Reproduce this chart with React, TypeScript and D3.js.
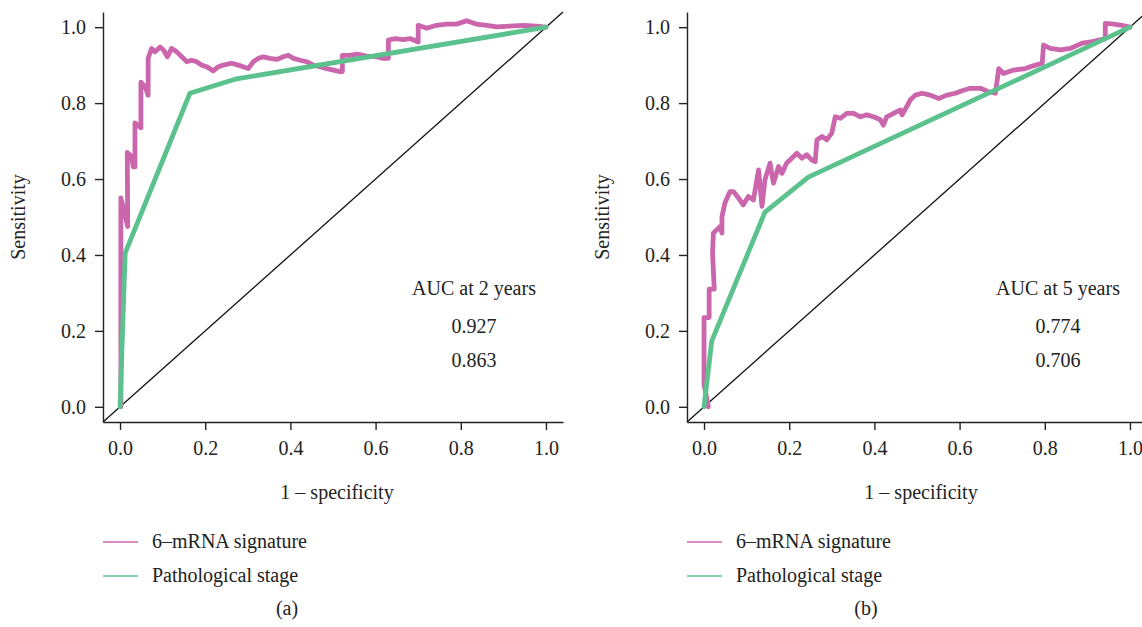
import React, { useEffect, useRef } from "react";
import * as d3 from "d3";

// ROC points, [1 - specificity, sensitivity]
const signature2yr: [number, number][] = [
  [0.002, 0], [0.002, 0.55], [0.018, 0.475], [0.017, 0.67], [0.027, 0.66], [0.031, 0.632],
  [0.035, 0.632], [0.035, 0.748], [0.049, 0.735], [0.049, 0.855], [0.059, 0.843], [0.066, 0.821],
  [0.066, 0.918], [0.074, 0.944], [0.082, 0.935], [0.094, 0.948], [0.102, 0.94], [0.111, 0.922],
  [0.121, 0.944], [0.133, 0.935], [0.145, 0.922], [0.157, 0.909], [0.168, 0.913], [0.18, 0.909],
  [0.192, 0.9], [0.203, 0.896], [0.219, 0.885], [0.231, 0.896], [0.242, 0.9], [0.262, 0.905],
  [0.278, 0.9], [0.289, 0.896], [0.301, 0.891], [0.313, 0.909], [0.325, 0.918], [0.336, 0.922],
  [0.352, 0.918], [0.368, 0.915], [0.383, 0.922], [0.395, 0.926], [0.407, 0.918], [0.423, 0.913],
  [0.438, 0.909], [0.454, 0.9], [0.469, 0.896], [0.485, 0.891], [0.501, 0.887], [0.516, 0.883],
  [0.522, 0.883], [0.522, 0.926], [0.54, 0.926], [0.556, 0.929], [0.579, 0.924], [0.603, 0.922],
  [0.618, 0.918], [0.63, 0.918], [0.63, 0.966], [0.646, 0.97], [0.665, 0.967], [0.681, 0.97],
  [0.7, 0.961], [0.7, 1.005], [0.72, 0.997], [0.743, 1.005], [0.767, 1.008], [0.79, 1.008],
  [0.814, 1.017], [0.837, 1.008], [0.861, 1.005], [0.884, 1.001], [0.915, 1.003], [0.947, 1.005],
  [0.978, 1.003], [1, 1],
];
const stage2yr: [number, number][] = [[0, 0], [0.012, 0.405], [0.164, 0.826], [0.27, 0.863], [1, 1]];

const signature5yr: [number, number][] = [
  [0.01, 0], [0, 0.06], [0, 0.235], [0.012, 0.235], [0.012, 0.31], [0.024, 0.31], [0.02, 0.405],
  [0.022, 0.458], [0.038, 0.475], [0.042, 0.458], [0.042, 0.5], [0.049, 0.537], [0.061, 0.567],
  [0.069, 0.567], [0.081, 0.55], [0.092, 0.532], [0.104, 0.554], [0.116, 0.545], [0.128, 0.624],
  [0.136, 0.528], [0.143, 0.598], [0.155, 0.642], [0.163, 0.589], [0.175, 0.633], [0.183, 0.615],
  [0.194, 0.642], [0.206, 0.655], [0.218, 0.668], [0.23, 0.655], [0.241, 0.664], [0.253, 0.65],
  [0.261, 0.646], [0.265, 0.703], [0.277, 0.712], [0.288, 0.703], [0.3, 0.721], [0.308, 0.764],
  [0.32, 0.76], [0.335, 0.773], [0.351, 0.773], [0.367, 0.764], [0.382, 0.769], [0.398, 0.764],
  [0.414, 0.756], [0.421, 0.742], [0.429, 0.764], [0.445, 0.773], [0.461, 0.782], [0.465, 0.769],
  [0.476, 0.791], [0.484, 0.808], [0.496, 0.821], [0.512, 0.826], [0.531, 0.821], [0.551, 0.812],
  [0.57, 0.821], [0.59, 0.826], [0.609, 0.834], [0.625, 0.839], [0.649, 0.839], [0.668, 0.83],
  [0.684, 0.826], [0.692, 0.891], [0.703, 0.878], [0.727, 0.887], [0.754, 0.891], [0.778, 0.9],
  [0.794, 0.905], [0.797, 0.953], [0.813, 0.944], [0.837, 0.94], [0.86, 0.944], [0.888, 0.958],
  [0.907, 0.961], [0.927, 0.966], [0.942, 0.97], [0.942, 1.01], [0.962, 1.008], [0.981, 1.005],
  [1, 1],
];
const stage5yr: [number, number][] = [[0, 0], [0.018, 0.173], [0.143, 0.513], [0.245, 0.605], [1, 1]];

const tickValues = [0, 0.2, 0.4, 0.6, 0.8, 1.0];
const seriesNames = ["6–mRNA signature", "Pathological stage"];
const seriesColors = ["#cb66ad", "#5bc28e"];
const aucText2yr = ["AUC at 2 years", "0.927", "0.863"];
const aucText5yr = ["AUC at 5 years", "0.774", "0.706"];
const panelTags = ["(a)", "(b)"];

const W = 1142;
const H = 627;
const FONT = "Liberation Serif, Times New Roman, serif";

export default function App() {
  const svgRef = useRef<SVGSVGElement>(null);

  useEffect(() => {
    const svg = d3.select(svgRef.current);
    svg.selectAll("*").remove();

    const panels = [
      { sig: signature2yr, stage: stage2yr, auc: aucText2yr, tag: panelTags[0], dx: 0, tagX: 287 },
      { sig: signature5yr, stage: stage5yr, auc: aucText5yr, tag: panelTags[1], dx: 584, tagX: 282 },
    ];

    panels.forEach((p) => {
      const g = svg.append("g").attr("transform", `translate(${p.dx},0)`);

      // R style plot region: data range padded by 4%
      const x = d3.scaleLinear().domain([-0.04, 1.04]).range([103, 563]);
      const y = d3.scaleLinear().domain([-0.04, 1.04]).range([422, 12]);

      // reference diagonal
      g.append("line")
        .attr("x1", x(-0.04))
        .attr("y1", y(-0.04))
        .attr("x2", x(1.04))
        .attr("y2", y(1.04))
        .attr("stroke", "#111")
        .attr("stroke-width", 1.3);

      const line = d3
        .line<[number, number]>()
        .x((d) => x(d[0]))
        .y((d) => y(d[1]));

      [p.sig, p.stage].forEach((pts, i) => {
        g.append("path")
          .datum(pts)
          .attr("d", line)
          .attr("fill", "none")
          .attr("stroke", seriesColors[i])
          .attr("stroke-width", 4.8)
          .attr("stroke-linejoin", "round")
          .attr("stroke-linecap", "round");
      });

      // axes
      const fmt = d3.format(".1f");
      const xAxis = g
        .append("g")
        .attr("transform", `translate(0,422)`)
        .call(
          d3.axisBottom(x).tickValues(tickValues).tickFormat(fmt as any).tickSize(8).tickSizeOuter(0).tickPadding(11)
        );
      const yAxis = g
        .append("g")
        .attr("transform", `translate(103,0)`)
        .call(
          d3.axisLeft(y).tickValues(tickValues).tickFormat(fmt as any).tickSize(8).tickSizeOuter(0).tickPadding(9)
        );
      [xAxis, yAxis].forEach((a) => {
        a.attr("font-family", null).attr("font-size", null);
        a.selectAll("path, line").attr("stroke", "#222").attr("stroke-width", 1.4);
        a.selectAll("text").attr("fill", "#222");
      });

      // axis titles
      g.append("text")
        .attr("transform", `translate(25,217) rotate(-90)`)
        .attr("text-anchor", "middle")
        .text("Sensitivity");
      g.append("text").attr("x", 337).attr("y", 499).attr("text-anchor", "middle").text("1 – specificity");

      // AUC annotation
      g.selectAll("text.auc")
        .data(p.auc)
        .enter()
        .append("text")
        .attr("class", "auc")
        .attr("x", 474)
        .attr("y", (_, i) => [295, 333, 367][i])
        .attr("text-anchor", "middle")
        .text((d) => d);

      // legend
      seriesNames.forEach((name, i) => {
        const ly = 542 + i * 34;
        g.append("line")
          .attr("x1", 103)
          .attr("x2", 138)
          .attr("y1", ly)
          .attr("y2", ly)
          .attr("stroke", seriesColors[i])
          .attr("stroke-width", 1.6);
        g.append("text")
          .attr("x", 152)
          .attr("y", ly + 6)
          .text(name);
      });

      g.append("text").attr("x", p.tagX).attr("y", 615).attr("text-anchor", "middle").text(p.tag);
    });
  }, []);

  return (
    <svg
      ref={svgRef}
      width={W}
      height={H}
      style={{ position: "absolute", left: 0, top: 0, background: "#fff", fontFamily: FONT, fontSize: 20 }}
      fill="#222"
    />
  );
}
